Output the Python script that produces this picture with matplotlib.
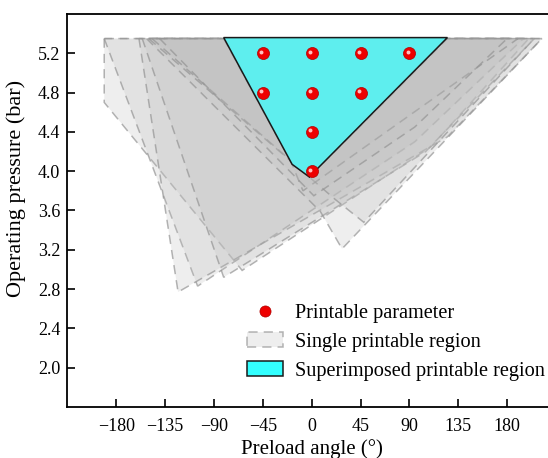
import numpy as np
import matplotlib
matplotlib.use("Agg")
import matplotlib.pyplot as plt
from matplotlib.patches import Patch
from matplotlib.lines import Line2D
from matplotlib import transforms

plt.rcParams['font.family'] = ['Liberation Serif', 'DejaVu Serif']

# single printable regions (preload angle in deg, pressure in bar)
region_angles = [
    [-191, -191, -64, 110, 200],
    [-191, -105, 95, 195],
    [-159, -123, 125, 212],
    [-156, -81, 105, 205],
    [-152, 8, 28, 212],
    [-150, 22, 48, 205],
    [-147, -2, 125],
    [-81, -18, -8, 190],
    [-140, 2, 95, 180],
]
region_pressures = [
    [5.35, 4.70, 2.99, 4.25, 5.35],
    [5.35, 2.83, 4.30, 5.35],
    [5.35, 2.77, 4.35, 5.35],
    [5.35, 2.92, 4.20, 5.35],
    [5.35, 3.59, 3.21, 5.35],
    [5.35, 3.71, 3.48, 5.35],
    [5.35, 3.94, 5.35],
    [5.35, 4.07, 3.80, 5.35],
    [5.35, 3.75, 4.45, 5.35],
]

# superimposed region
overlap_angles = [-81, 125, 3, -2, -18]
overlap_pressures = [5.36, 5.36, 4.00, 3.94, 4.07]

# printable parameters
param_angles = [-45, 0, 45, 90, -45, 0, 45, 0, 0]
param_pressures = [5.2, 5.2, 5.2, 5.2, 4.8, 4.8, 4.8, 4.4, 4.0]

fig = plt.figure(figsize=(5.48, 4.58), dpi=100)
ax = fig.add_axes([0.1228, 0.1114, 0.8918, 0.858])

gray_face = (0.75, 0.75, 0.75, 0.25)
gray_edge = (0.58, 0.58, 0.58, 0.7)
for xs, ys in zip(region_angles, region_pressures):
    ax.fill(xs, ys, facecolor=gray_face, edgecolor=gray_edge,
            linestyle=(0, (6, 4)), linewidth=1.1, zorder=2)

ax.fill(overlap_angles, overlap_pressures, facecolor='#5eeeee', edgecolor='#1a1a1a',
        linewidth=1.1, zorder=3)

ax.scatter(param_angles, param_pressures, s=75, c='#ee0000', edgecolors='#b00000',
           linewidths=0.5, zorder=5)
shine = transforms.offset_copy(ax.transData, fig=fig, x=-1.2, y=1.2, units='points')
ax.scatter(param_angles, param_pressures, s=8, c='#ffc0c0', linewidths=0,
           transform=shine, zorder=6)

ax.set_xlim(-225, 225)
ax.set_ylim(1.6, 5.6)
ax.set_xticks(np.arange(-180, 181, 45))
ax.set_yticks(np.arange(2.0, 5.3, 0.4))
ax.set_yticklabels([f"{v:.1f}" for v in np.arange(2.0, 5.3, 0.4)])
ax.tick_params(direction='in', length=6, width=1.2, labelsize=13, pad=5)
ax.tick_params(axis='x', pad=8)
for s in ax.spines.values():
    s.set_linewidth(1.3)

ax.set_xlabel("Preload angle (°)", fontsize=15, labelpad=3)
ax.set_ylabel("Operating pressure (bar)", fontsize=16, labelpad=4)
ax.yaxis.set_label_coords(-0.085, 0.557)

handles = [
    Line2D([], [], marker='o', linestyle='none', markersize=8, markerfacecolor='#ee0000',
           markeredgecolor='#b00000', markeredgewidth=0.5),
    Patch(facecolor=gray_face, edgecolor=gray_edge, linestyle=(0, (6, 4)), linewidth=1.1),
    Patch(facecolor='#33ffff', edgecolor='#1a1a1a', linewidth=1.1),
]
labels = ["Printable parameter", "Single printable region", "Superimposed printable region"]
ax.legend(handles, labels, loc='center left', bbox_to_anchor=(0.4507, 0.2533),
          bbox_transform=fig.transFigure, frameon=False, fontsize=14.6,
          handlelength=1.78, handleheight=0.7, labelspacing=0.48,
          handletextpad=0.6, borderaxespad=0, borderpad=0)

fig.savefig("out.png", dpi=100)
